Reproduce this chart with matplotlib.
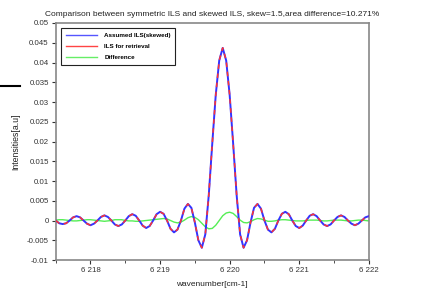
import numpy as np
import matplotlib
matplotlib.use("Agg")
import matplotlib.pyplot as plt
from matplotlib.ticker import MultipleLocator, FuncFormatter
from matplotlib.lines import Line2D

plt.rcParams['font.family'] = ['Liberation Sans', 'DejaVu Sans']

# wavenumber grid, cm-1 (step 0.05)
wavenumber = np.round(np.arange(6217.5, 6222.001, 0.05), 2)

# values
ils_skewed = [
    0.0000, -0.0007, -0.0009, -0.0007, 0.0000, 0.0008, 0.0011, 0.0008, 0.0000, -0.0008,
    -0.0012, -0.0008, 0.0000, 0.0009, 0.0013, 0.0009, 0.0000, -0.0010, -0.0014, -0.0010,
    0.0000, 0.0011, 0.0016, 0.0012, 0.0000, -0.0013, -0.0019, -0.0014, 0.0000, 0.0016,
    0.0022, 0.0017, 0.0000, -0.0021, -0.0030, -0.0023, 0.0000, 0.0030, 0.0042, 0.0032,
    -0.0005, -0.0050, -0.0069, -0.0035, 0.0065, 0.0195, 0.0318, 0.0405, 0.0437, 0.0405,
    0.0318, 0.0195, 0.0065, -0.0035, -0.0069, -0.0050, -0.0005, 0.0032, 0.0042, 0.0030,
    0.0000, -0.0023, -0.0030, -0.0021, 0.0000, 0.0017, 0.0022, 0.0016, 0.0000, -0.0014,
    -0.0019, -0.0013, 0.0000, 0.0012, 0.0016, 0.0011, 0.0000, -0.0010, -0.0014, -0.0010,
    0.0000, 0.0009, 0.0013, 0.0009, 0.0000, -0.0008, -0.0012, -0.0008, 0.0000, 0.0008,
    0.0011,
]
ils_retrieval = list(ils_skewed)

difference = [
    0.0001, 0.0002, 0.0002, 0.0001, 0.0000, -0.0001, -0.0001, 0.0000, 0.0001, 0.0002,
    0.0002, 0.0001, 0.0000, -0.0001, -0.0002, -0.0001, 0.0000, 0.0002, 0.0002, 0.0002,
    0.0000, -0.0001, -0.0001, -0.0002, -0.0002, -0.0001, 0.0000, 0.0001, 0.0002, 0.0003,
    0.0004, 0.0005, 0.0004, 0.0000, -0.0004, -0.0006, -0.0004, 0.0001, 0.0007, 0.0010,
    0.0008, 0.0002, -0.0007, -0.0016, -0.0021, -0.0020, -0.0012, 0.0000, 0.0012, 0.0019,
    0.0021, 0.0018, 0.0010, 0.0001, -0.0005, -0.0006, -0.0003, 0.0002, 0.0005, 0.0004,
    0.0001, -0.0002, -0.0002, -0.0001, 0.0001, 0.0002, 0.0002, 0.0001, 0.0000, -0.0001,
    -0.0001, -0.0001, 0.0000, 0.0001, 0.0001, 0.0001, 0.0000, -0.0001, -0.0001, 0.0000,
    0.0001, 0.0001, 0.0001, 0.0000, -0.0001, -0.0001, 0.0000, 0.0001, 0.0001, 0.0000,
    -0.0001,
]

title = "Comparison between symmetric ILS and skewed ILS, skew=1.5,area difference=10.271%"

fig = plt.figure(figsize=(4.22, 2.96), dpi=100)
ax = fig.add_axes([0.132, 0.1216, 0.742, 0.8007])

ax.plot(wavenumber, difference, color='#55ee55', lw=1.0, label='Difference', zorder=2)
ax.plot(wavenumber, ils_skewed, color='#3333ff', lw=1.4, label='Assumed ILS(skewed)', zorder=3)
ax.plot(wavenumber, ils_retrieval, color='#ff3333', lw=1.1, ls=(0, (3, 3)), zorder=4)

ax.set_xlim(6217.5, 6222)
ax.set_ylim(-0.01, 0.05)
ax.xaxis.set_major_locator(MultipleLocator(1))
ax.xaxis.set_minor_locator(MultipleLocator(0.5))
ax.yaxis.set_major_locator(MultipleLocator(0.005))
ax.xaxis.set_major_formatter(FuncFormatter(lambda v, p: f"{int(round(v)):,}".replace(",", " ")))
ax.yaxis.set_major_formatter(FuncFormatter(lambda v, p: ("%g" % round(v, 4)) if abs(v) > 1e-9 else "0"))
ax.tick_params(direction='out', length=3, width=0.8, labelsize=5.7, colors='#333333', pad=2)
ax.tick_params(which='minor', direction='out', length=2, width=0.6, colors='#333333')
for s in ax.spines.values():
    s.set_color('#888888')
    s.set_linewidth(1.2)

ax.set_title(title, fontsize=6, pad=5, color='#222222')
ax.set_xlabel('wavenumber[cm-1]', fontsize=6, labelpad=5, color='#222222')
ax.set_ylabel('Intensities[a.u]', fontsize=6.3, labelpad=5, color='#222222')

handles = [
    Line2D([], [], color='#5555ff', lw=1.0),
    Line2D([], [], color='#ff4444', lw=1.0),
    Line2D([], [], color='#66ee66', lw=1.0),
]
leg = ax.legend(handles, ['Assumed ILS(skewed)', 'ILS for retrieval', 'Difference'],
                loc='upper left', bbox_to_anchor=(0.008, 0.992),
                prop={'weight': 'bold', 'size': 4.5}, fancybox=False, framealpha=1,
                edgecolor='#222222', handlelength=5, borderpad=0.75, labelspacing=0.9,
                handletextpad=1.1)
leg.get_frame().set_linewidth(0.8)

# stray mark at left edge of the screenshot
fig.add_artist(Line2D([0.0, 0.048], [0.709, 0.709], color='black', lw=1.5,
                      transform=fig.transFigure))

fig.savefig('out.png', dpi=100)
